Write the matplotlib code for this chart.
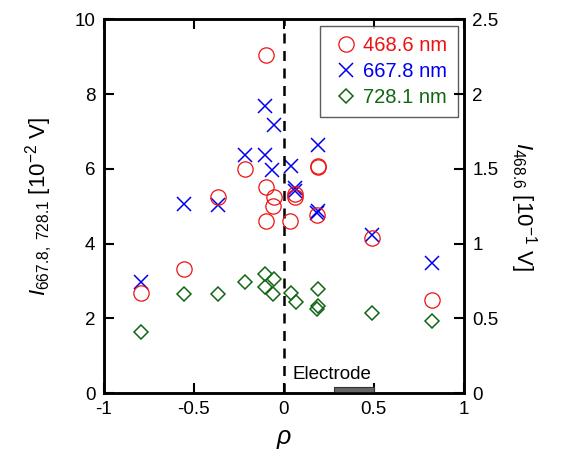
import matplotlib.pyplot as plt
from matplotlib.lines import Line2D

plt.rcParams['font.family'] = ['Liberation Sans', 'DejaVu Sans']
plt.rcParams['mathtext.fontset'] = 'custom'
plt.rcParams['mathtext.rm'] = 'Liberation Sans'
plt.rcParams['mathtext.it'] = 'Liberation Sans:italic'

# 468.6 nm (right axis, 10^-1 V)
rho_468 = [-0.794, -0.557, -0.365, -0.217, -0.1, -0.1, -0.056, -0.06, -0.1,
           0.033, 0.061, 0.061, 0.19, 0.19, 0.185, 0.49, 0.822]
i_468 = [0.668, 0.83, 1.31, 1.5, 2.26, 1.38, 1.31, 1.25, 1.15,
         1.15, 1.33, 1.31, 1.52, 1.51, 1.19, 1.04, 0.62]

# 667.8 nm (left axis, 10^-2 V)
rho_667 = [-0.794, -0.557, -0.365, -0.217, -0.102, -0.102, -0.056, -0.063,
           0.042, 0.19, 0.061, 0.061, 0.185, 0.19, 0.49, 0.822]
i_667 = [2.98, 5.06, 5.04, 6.38, 7.68, 6.38, 7.18, 5.98,
         6.07, 6.65, 5.49, 5.40, 4.82, 4.86, 4.24, 3.48]

# 728.1 nm (left axis, 10^-2 V)
rho_728 = [-0.794, -0.557, -0.365, -0.215, -0.102, -0.102, -0.056, -0.06,
           0.039, 0.067, 0.19, 0.19, 0.185, 0.49, 0.822]
i_728 = [1.63, 2.65, 2.65, 2.96, 3.18, 2.85, 3.05, 2.65,
         2.69, 2.43, 2.78, 2.34, 2.26, 2.14, 1.94]

electrode = (0.28, 0.5)

fig = plt.figure(figsize=(5.67, 4.51), dpi=100)
ax = fig.add_axes([0.183, 0.1286, 0.635, 0.8284])
ax2 = ax.twinx()

ax.plot(rho_667, i_667, 'x', color='#0000ee', ms=10, mew=1.1, ls='none')
ax.plot(rho_728, i_728, 'D', color='#116611', ms=7, mfc='none', mew=1.1, ls='none')
ax2.plot(rho_468, i_468, 'o', color='#ee1111', ms=11, mfc='none', mew=0.9, ls='none')

ax.axvline(0, color='black', ls=(0, (4, 3)), lw=1.8)
ax.add_patch(plt.Rectangle((electrode[0], 0), electrode[1] - electrode[0], 0.15,
                           facecolor='#666666', edgecolor='#333333', lw=0.8,
                           clip_on=False, zorder=3))
ax.text(0.27, 0.28, 'Electrode', ha='center', va='bottom', fontsize=13.5)

ax.set_xlim(-1, 1)
ax.set_ylim(0, 10)
ax2.set_ylim(0, 2.5)
ax.set_xticks([-1, -0.5, 0, 0.5, 1])
ax.set_xticklabels(['-1', '-0.5', '0', '0.5', '1'])
ax.set_yticks([0, 2, 4, 6, 8, 10])
ax2.set_yticks([0, 0.5, 1, 1.5, 2, 2.5])
ax2.set_yticklabels(['0', '0.5', '1', '1.5', '2', '2.5'])

for a in (ax, ax2):
    for s in a.spines.values():
        s.set_linewidth(1.8)
    a.tick_params(direction='in', length=7, width=1.5, labelsize=13.5, pad=6)
ax.tick_params(top=True)

ax.set_xlabel(r'$\rho$', fontsize=18, labelpad=6)
ax.set_ylabel(r'$I_{667.8,\ 728.1}$ [10$^{-2}$ V]', fontsize=16, labelpad=14)
ax2.set_ylabel(r'$I_{468.6}$ [10$^{-1}$ V]', fontsize=16, rotation=-90, labelpad=29)

handles = [
    Line2D([], [], marker='o', color='#ee1111', mfc='none', ms=11, mew=0.9, ls='none'),
    Line2D([], [], marker='x', color='#0000ee', ms=10, mew=1.1, ls='none'),
    Line2D([], [], marker='D', color='#116611', mfc='none', ms=7, mew=1.1, ls='none'),
]
leg = ax.legend(handles, ['468.6 nm', '667.8 nm', '728.1 nm'], loc='upper right',
                fontsize=14.5, frameon=True, fancybox=False, edgecolor='#333333',
                handletextpad=0.05, handlelength=1.6, borderpad=0.5,
                labelspacing=0.35, borderaxespad=0.0,
                bbox_to_anchor=(0.983, 0.983))
leg.get_frame().set_linewidth(1.0)
for t, c in zip(leg.get_texts(), ['#ee1111', '#0000ee', '#116611']):
    t.set_color(c)

fig.savefig('out.png', dpi=100)
